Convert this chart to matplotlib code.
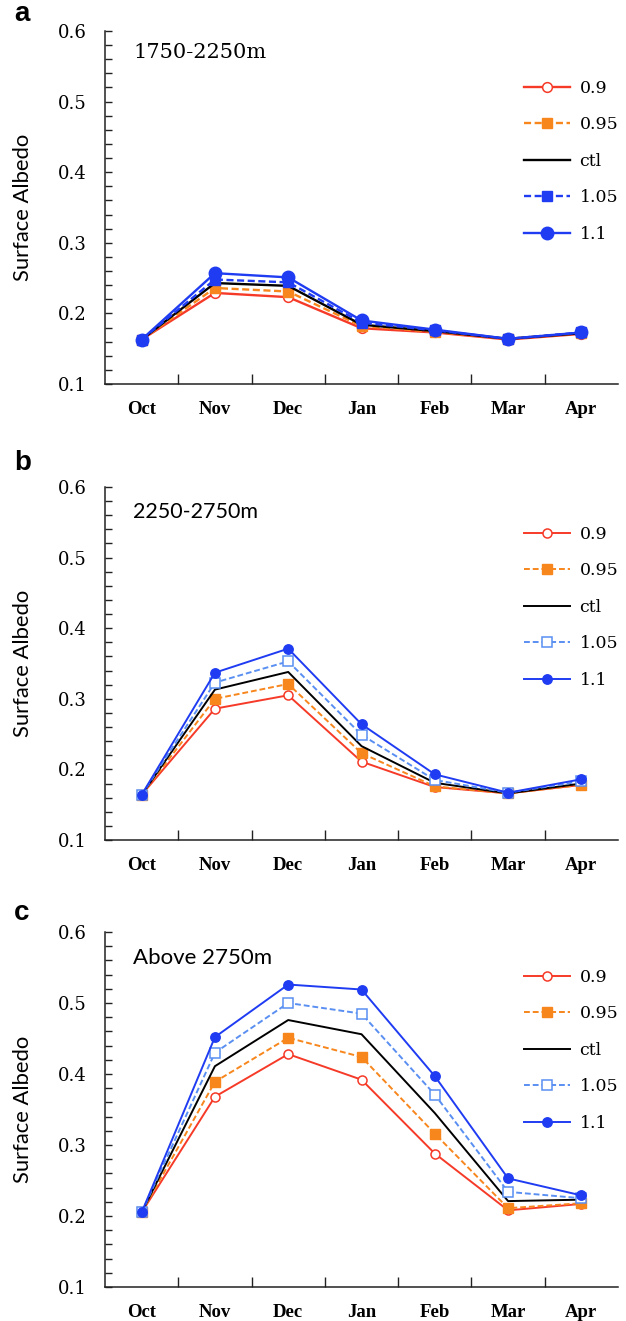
import matplotlib
matplotlib.use("Agg")
import matplotlib.pyplot as plt
from matplotlib.ticker import MultipleLocator, FixedLocator

months = ["Oct", "Nov", "Dec", "Jan", "Feb", "Mar", "Apr"]
series_labels = ["0.9", "0.95", "ctl", "1.05", "1.1"]
panel_letters = ["a", "b", "c"]
panel_titles = ["1750-2250m", "2250-2750m", "Above 2750m"]

# Panel a: 1750-2250m
a_09 = [0.163, 0.229, 0.223, 0.179, 0.173, 0.163, 0.171]
a_095 = [0.163, 0.236, 0.231, 0.182, 0.174, 0.164, 0.172]
a_ctl = [0.163, 0.243, 0.239, 0.184, 0.175, 0.164, 0.172]
a_105 = [0.163, 0.248, 0.244, 0.187, 0.176, 0.164, 0.173]
a_11 = [0.163, 0.257, 0.251, 0.190, 0.177, 0.164, 0.173]

# Panel b: 2250-2750m
b_09 = [0.164, 0.286, 0.305, 0.211, 0.175, 0.166, 0.178]
b_095 = [0.164, 0.300, 0.321, 0.223, 0.176, 0.166, 0.178]
b_ctl = [0.164, 0.313, 0.338, 0.233, 0.181, 0.166, 0.180]
b_105 = [0.164, 0.323, 0.353, 0.249, 0.185, 0.167, 0.183]
b_11 = [0.164, 0.337, 0.371, 0.264, 0.193, 0.167, 0.186]

# Panel c: above 2750m
c_09 = [0.205, 0.368, 0.428, 0.392, 0.288, 0.208, 0.217]
c_095 = [0.205, 0.389, 0.451, 0.424, 0.316, 0.211, 0.218]
c_ctl = [0.205, 0.411, 0.476, 0.456, 0.345, 0.221, 0.223]
c_105 = [0.205, 0.430, 0.500, 0.485, 0.371, 0.234, 0.225]
c_11 = [0.205, 0.452, 0.526, 0.519, 0.397, 0.253, 0.229]

panels = [
    [a_09, a_095, a_ctl, a_105, a_11],
    [b_09, b_095, b_ctl, b_105, b_11],
    [c_09, c_095, c_ctl, c_105, c_11],
]

RED = "#f63a28"
ORANGE = "#f7861c"
BLUE = "#1f3cf2"
LIGHTBLUE = "#5a8ff2"

W, H = 626, 1321
fig = plt.figure(figsize=(W / 100, H / 100), dpi=100)

# axes boxes in pixel coords: (left, top, right, bottom)
boxes = [(105, 31, 618, 384), (105, 487, 618, 840), (105, 932, 618, 1287)]
legend_tops = [80, 526, 969]
letter_y = [14, 463, 913]
title_y = [52, 512, 958]
title_size = [15, 15.5, 16]

serif = ["DejaVu Serif"]
lserif = ["Liberation Serif", "DejaVu Serif"]
sans = ["Lato", "DejaVu Sans"]

for i, (box, data) in enumerate(zip(boxes, panels)):
    l, t, r, b = box
    ax = fig.add_axes([l / W, 1 - b / H, (r - l) / W, (b - t) / H])
    x = list(range(len(months)))
    big = (i == 0)
    lw = 1.7 if big else 1.4
    ms_c = 9 if big else 6.8
    ms_s = 7 if big else 6.5
    d09, d095, dctl, d105, d11 = data
    ax.plot(x, d09, color=RED, lw=lw, marker="o", ms=ms_s, mfc="white",
            mec=RED, mew=1.1, label=series_labels[0])
    ax.plot(x, d095, color=ORANGE, lw=lw, ls=(0, (3, 1.5)), marker="s", ms=ms_s,
            mfc=ORANGE, mec=ORANGE, label=series_labels[1])
    ax.plot(x, dctl, color="black", lw=lw, label=series_labels[2])
    if big:
        ax.plot(x, d105, color=BLUE, lw=lw, ls=(0, (3, 1.5)), marker="s", ms=ms_s,
                mfc=BLUE, mec=BLUE, label=series_labels[3])
    else:
        ax.plot(x, d105, color=LIGHTBLUE, lw=lw, ls=(0, (3, 1.5)), marker="s", ms=ms_s,
                mfc="white", mec=LIGHTBLUE, mew=1.1, label=series_labels[3])
    ax.plot(x, d11, color=BLUE, lw=lw, marker="o", ms=ms_c, mfc=BLUE, mec=BLUE,
            label=series_labels[4])

    ax.set_xlim(-0.5, 6.5)
    ax.set_ylim(0.1, 0.6)
    for s in ["top", "right"]:
        ax.spines[s].set_visible(False)
    for s in ["left", "bottom"]:
        ax.spines[s].set_linewidth(1.1)
        ax.spines[s].set_color("#222222")

    ax.yaxis.set_minor_locator(MultipleLocator(0.02))
    ax.set_yticks([0.1, 0.2, 0.3, 0.4, 0.5, 0.6])
    ax.set_yticklabels(["0.1", "0.2", "0.3", "0.4", "0.5", "0.6"],
                       fontfamily=serif, fontsize=13)
    ax.tick_params(axis="y", which="both", direction="in", length=5, width=1,
                   color="#222222", pad=13)

    ax.set_xticks(x)
    ax.set_xticklabels(months, fontfamily=lserif, fontsize=13.5, fontweight="bold")
    ax.xaxis.set_minor_locator(FixedLocator([0.5, 1.5, 2.5, 3.5, 4.5, 5.5]))
    ax.tick_params(axis="x", which="major", length=0, pad=12)
    ax.tick_params(axis="x", which="minor", direction="in", length=7, width=1,
                   color="#222222")

    ax.set_ylabel("Surface Albedo", fontfamily=sans, fontsize=15.8)
    ax.yaxis.set_label_coords((33 - 105) / (r - l), 0.5)

    tfam = serif if i == 0 else sans
    ax.text((133 - l) / (r - l), 1 - (title_y[i] - t) / (b - t), panel_titles[i],
            transform=ax.transAxes, fontfamily=tfam, fontsize=title_size[i],
            ha="left", va="center")

    fig.text(14 / W, 1 - letter_y[i] / H, panel_letters[i],
             fontfamily=["Liberation Sans", "DejaVu Sans"],
             fontsize=20, fontweight="bold", ha="left", va="center")

    ax.legend(loc="upper left",
              bbox_to_anchor=((524 - l) / (r - l), 1 - (legend_tops[i] - t) / (b - t)),
              frameon=False, prop={"family": serif, "size": 12.5},
              handlelength=2.65, handletextpad=0.55, labelspacing=1.12,
              borderpad=0, borderaxespad=0)

fig.savefig("out.png", dpi=100)
